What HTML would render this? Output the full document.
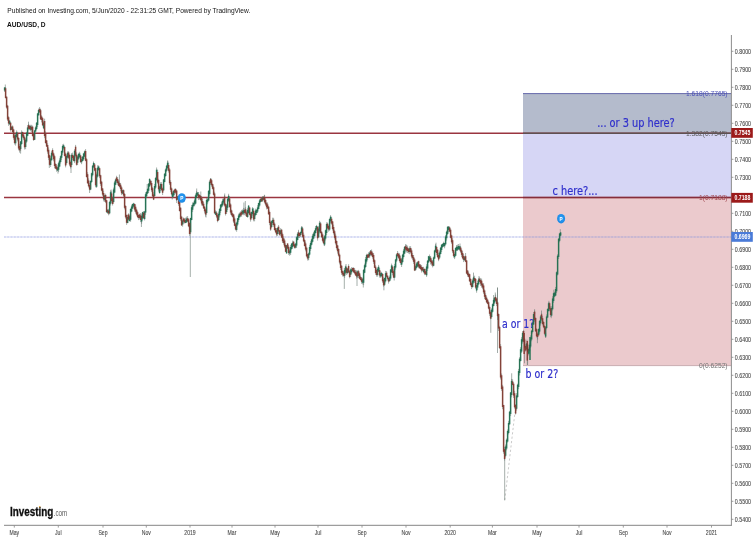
<!DOCTYPE html>
<html lang="en"><head><meta charset="utf-8"><title>AUD/USD, D</title>
<style>
html,body{margin:0;padding:0;background:#fff}
body{width:756px;height:540px;overflow:hidden;font-family:"Liberation Sans",Arial,sans-serif}
svg{display:block}
.ax text{font-family:"Liberation Sans",Arial,sans-serif;font-size:6.4px;fill:#4a4a4a;stroke:#4a4a4a;stroke-width:0.1px}
.note{font-family:"DejaVu Sans Condensed","DejaVu Sans","Liberation Sans",sans-serif;fill:#3030cc}
.fib{font-family:"Liberation Sans",Arial,sans-serif;font-size:6.7px}
</style></head><body>
<svg width="756" height="540" viewBox="0 0 756 540">
<defs><filter id="b" x="-5%" y="-5%" width="110%" height="110%"><feGaussianBlur stdDeviation="0.4"/></filter><filter id="t" x="-5%" y="-20%" width="110%" height="140%"><feGaussianBlur stdDeviation="0.25"/></filter></defs>
<rect width="756" height="540" fill="#fff"/>
<rect x="523" y="93.6" width="208" height="39.6" fill="#b4bbcc"/>
<rect x="523" y="133.2" width="208" height="64.3" fill="#d6d6f5"/>
<rect x="523" y="197.5" width="208" height="168.1" fill="#ebcacd"/>
<line x1="523" x2="731" y1="93.6" y2="93.6" stroke="#6668ac" stroke-width="1"/>
<line x1="523" x2="731" y1="365.6" y2="365.6" stroke="#c4a8ac" stroke-width="0.9"/>
<line x1="4" x2="731" y1="237.0" y2="237.0" stroke="#8f9be0" stroke-opacity="0.24" stroke-width="1.5"/>
<line x1="4" x2="731" y1="237.0" y2="237.0" stroke="#7f8cd8" stroke-opacity="0.26" stroke-width="1.3" stroke-dasharray="1.8 1.5"/>
<line x1="4" x2="731" y1="133.2" y2="133.2" stroke="#9a3540" stroke-width="1.35"/>
<line x1="4" x2="731" y1="197.5" y2="197.5" stroke="#9a3540" stroke-width="1.35"/>
<line x1="523" x2="731" y1="133.2" y2="133.2" stroke="#555" stroke-opacity="0.85" stroke-width="1.5"/>
<line x1="523" x2="731" y1="197.5" y2="197.5" stroke="#7a2838" stroke-opacity="0.6" stroke-width="1.5"/>
<line x1="504.8" y1="500" x2="515" y2="412" stroke="#bdbdbd" stroke-width="0.8" stroke-dasharray="2.2 2.2"/>
<text class="note" x="597.2" y="127.3" font-size="12" textLength="77.5" lengthAdjust="spacingAndGlyphs" stroke="#3030cc" stroke-width="0.2">... or 3 up here?</text>
<text class="note" x="552.6" y="194.8" font-size="12" textLength="44.9" lengthAdjust="spacingAndGlyphs" stroke="#3030cc" stroke-width="0.2">c here?...</text>
<text class="note" x="502.1" y="328" font-size="12" textLength="32.2" lengthAdjust="spacingAndGlyphs" stroke="#3030cc" stroke-width="0.2">a or 1?</text>
<text class="note" x="525.6" y="377.5" font-size="12" textLength="32.6" lengthAdjust="spacingAndGlyphs" stroke="#3030cc" stroke-width="0.2">b or 2?</text>
<path d="M4.6 87.1V92.0M5.6 87.0V98.5M6.6 96.3V108.7M7.6 104.9V121.0M8.6 116.2V125.8M9.6 120.2V124.8M10.6 122.1V131.6M11.6 126.3V130.1M12.6 125.4V133.0M13.6 128.7V139.7M14.6 134.0V144.5M15.6 133.8V145.6M16.6 130.4V137.7M17.6 131.8V141.4M18.6 137.0V150.3M19.6 143.8V152.6M20.6 141.0V150.8M21.6 130.4V144.9M22.6 131.6V137.7M23.6 134.2V140.2M24.6 136.2V149.5M25.6 138.2V149.2M26.6 131.8V142.8M27.6 125.1V136.3M28.6 123.9V130.3M29.6 124.9V130.2M30.6 124.8V131.3M31.6 124.8V131.9M32.6 125.6V136.6M33.6 133.6V140.8M34.6 130.0V140.0M35.6 126.3V131.8M36.6 122.1V129.9M37.6 112.9V127.1M38.6 108.6V115.7M39.6 107.1V112.9M40.6 108.9V119.9M41.6 115.2V122.4M42.6 117.3V126.2M43.6 120.6V129.2M44.6 118.7V138.2M45.6 131.4V143.7M46.6 140.0V146.9M47.6 143.3V153.7M48.6 147.4V160.1M49.6 154.6V165.5M50.6 156.2V167.0M51.6 150.8V160.6M52.6 148.3V156.7M53.6 152.5V161.3M54.6 155.1V168.3M55.6 163.3V169.1M56.6 164.3V171.7M57.6 166.9V170.8M58.6 161.8V172.0M59.6 158.3V167.2M60.6 155.4V163.5M61.6 150.5V159.9M62.6 144.4V154.8M63.6 143.8V149.7M64.6 146.3V156.4M65.6 152.5V167.4M66.6 154.6V164.6M67.6 151.3V158.4M68.6 151.2V159.2M69.6 153.8V166.0M70.6 160.6V168.5M71.6 153.1V167.3M72.6 152.6V159.9M73.6 154.8V161.3M74.6 149.1V163.1M75.6 144.9V157.4M76.6 152.4V165.6M77.6 155.3V165.1M78.6 152.8V160.1M79.6 151.8V157.6M80.6 155.1V162.9M81.6 156.9V164.2M82.6 156.0V161.2M83.6 153.1V160.4M84.6 150.5V157.1M85.6 149.1V161.3M86.6 158.1V177.5M87.6 172.2V183.7M88.6 178.4V187.5M89.6 182.9V190.2M90.6 180.3V190.2M91.6 172.6V182.9M92.6 164.9V176.5M93.6 162.7V168.1M94.6 163.0V171.3M95.6 167.8V187.3M96.6 172.4V187.9M97.6 165.3V177.6M98.6 165.4V170.9M99.6 167.7V178.2M100.6 174.7V185.8M101.6 180.8V191.3M102.6 188.0V195.9M103.6 190.7V200.7M104.6 194.7V200.7M105.6 193.7V203.1M106.6 200.0V212.9M107.6 209.4V213.7M108.6 208.8V215.3M109.6 200.9V214.3M110.6 190.4V205.5M111.6 191.4V202.7M112.6 196.8V205.5M113.6 187.6V203.5M114.6 180.9V193.2M115.6 178.5V185.2M116.6 175.8V182.9M117.6 177.1V184.7M118.6 179.9V186.2M119.6 182.9V187.6M120.6 182.9V191.3M121.6 186.1V195.1M122.6 189.8V194.2M123.6 189.4V197.0M124.6 193.0V209.4M125.6 205.2V218.6M126.6 214.5V224.8M127.6 214.7V223.3M128.6 213.3V220.4M129.6 214.7V221.5M130.6 208.3V221.8M131.6 204.8V212.2M132.6 203.7V208.9M133.6 202.8V207.4M134.6 203.6V211.5M135.6 204.4V213.5M136.6 208.6V215.7M137.6 211.1V218.2M138.6 214.5V220.1M139.6 213.7V219.3M140.6 213.1V222.1M141.6 213.6V223.8M142.6 211.8V220.4M143.6 211.0V218.9M144.6 210.9V220.4M145.6 192.4V214.9M146.6 191.1V197.8M147.6 188.3V194.0M148.6 183.0V193.0M149.6 178.3V187.0M150.6 180.2V185.3M151.6 180.9V192.1M152.6 186.9V197.4M153.6 192.1V200.1M154.6 183.9V196.8M155.6 176.9V188.9M156.6 167.5V180.6M157.6 169.7V183.7M158.6 178.8V191.6M159.6 185.6V193.6M160.6 182.2V191.2M161.6 182.2V191.2M162.6 187.6V195.0M163.6 178.9V191.2M164.6 173.2V182.4M165.6 168.4V176.8M166.6 164.8V172.1M167.6 160.5V169.4M168.6 162.7V172.6M169.6 168.1V185.0M170.6 180.3V191.9M171.6 187.4V195.5M172.6 191.4V198.3M173.6 189.9V197.5M174.6 188.7V195.1M175.6 188.2V193.8M176.6 190.2V201.0M177.6 196.0V199.8M178.6 195.7V205.8M179.6 199.7V211.6M180.6 207.4V220.7M181.6 215.8V226.0M182.6 219.5V226.7M183.6 217.5V223.6M184.6 218.1V223.5M185.6 217.7V223.2M186.6 216.6V222.6M187.6 216.1V222.1M188.6 218.3V227.2M189.6 222.3V235.8M190.6 217.7V234.1M191.6 205.0V220.3M192.6 202.4V212.1M193.6 201.8V207.3M194.6 198.4V206.3M195.6 193.6V204.3M196.6 190.8V197.9M197.6 192.1V196.0M198.6 192.0V200.1M199.6 194.6V199.4M200.6 195.3V201.3M201.6 196.2V205.5M202.6 198.9V206.2M203.6 201.9V209.0M204.6 206.2V213.4M205.6 208.4V216.7M206.6 197.9V214.6M207.6 197.2V204.3M208.6 190.0V201.0M209.6 180.2V196.5M210.6 178.1V185.1M211.6 178.7V186.8M212.6 183.5V189.5M213.6 185.6V195.6M214.6 191.7V213.9M215.6 210.3V215.1M216.6 211.2V218.2M217.6 213.5V222.3M218.6 211.5V220.9M219.6 208.0V217.4M220.6 204.1V212.9M221.6 201.6V208.0M222.6 198.7V206.5M223.6 197.8V204.2M224.6 195.1V206.6M225.6 203.2V215.5M226.6 204.2V213.9M227.6 198.2V210.0M228.6 193.8V202.0M229.6 196.4V207.7M230.6 203.3V214.5M231.6 209.6V216.2M232.6 212.9V217.5M233.6 214.2V223.0M234.6 216.5V226.2M235.6 222.6V230.4M236.6 221.6V231.7M237.6 218.0V226.2M238.6 213.7V221.8M239.6 212.5V217.7M240.6 211.4V217.0M241.6 209.9V216.7M242.6 209.4V214.8M243.6 207.9V215.2M244.6 208.5V215.2M245.6 207.3V215.7M246.6 210.7V217.0M247.6 207.8V217.7M248.6 205.0V213.8M249.6 207.2V215.4M250.6 211.8V221.6M251.6 211.5V219.4M252.6 207.1V215.6M253.6 208.3V221.3M254.6 212.5V221.3M255.6 208.7V216.2M256.6 209.4V215.0M257.6 205.2V213.1M258.6 202.7V209.3M259.6 199.2V206.7M260.6 197.5V202.5M261.6 197.2V202.0M262.6 196.0V201.9M263.6 196.2V200.3M264.6 195.2V203.4M265.6 198.4V205.9M266.6 202.1V209.4M267.6 202.4V208.9M268.6 206.0V214.7M269.6 210.6V225.2M270.6 220.6V230.8M271.6 220.5V228.0M272.6 217.7V224.9M273.6 217.8V226.8M274.6 222.4V230.7M275.6 227.8V233.2M276.6 228.1V236.4M277.6 226.8V235.9M278.6 225.1V233.9M279.6 230.0V235.7M280.6 228.2V235.9M281.6 228.9V238.2M282.6 232.6V243.0M283.6 236.3V244.7M284.6 238.7V248.1M285.6 243.4V252.2M286.6 245.0V253.8M287.6 243.3V248.9M288.6 245.0V254.8M289.6 248.6V255.7M290.6 245.0V255.0M291.6 243.0V249.7M292.6 240.6V248.5M293.6 240.9V246.5M294.6 243.6V248.6M295.6 242.9V248.4M296.6 236.3V247.8M297.6 232.2V240.4M298.6 231.4V238.0M299.6 232.5V238.0M300.6 231.4V237.0M301.6 226.2V234.4M302.6 227.1V237.8M303.6 232.5V242.2M304.6 238.7V246.5M305.6 241.6V251.4M306.6 246.7V257.3M307.6 253.7V260.5M308.6 252.6V260.3M309.6 244.8V255.4M310.6 241.2V250.9M311.6 238.4V245.5M312.6 233.9V242.5M313.6 232.0V239.2M314.6 230.0V236.7M315.6 226.1V233.6M316.6 224.9V231.0M317.6 226.3V240.6M318.6 226.2V237.8M319.6 220.8V233.4M320.6 221.9V233.5M321.6 231.4V238.0M322.6 233.3V242.3M323.6 236.9V244.3M324.6 235.1V246.1M325.6 229.5V240.4M326.6 222.3V235.1M327.6 222.5V229.3M328.6 224.7V231.6M329.6 218.3V230.8M330.6 215.1V223.5M331.6 216.9V224.7M332.6 221.0V230.5M333.6 224.6V234.5M334.6 229.8V239.6M335.6 233.6V244.6M336.6 240.4V249.6M337.6 244.8V253.6M338.6 248.2V256.6M339.6 253.5V264.4M340.6 260.2V270.0M341.6 265.1V274.8M342.6 270.4V276.5M343.6 271.3V276.6M344.6 268.4V277.8M345.6 265.6V274.1M346.6 266.8V274.9M347.6 267.8V274.2M348.6 264.3V273.1M349.6 270.0V278.3M350.6 268.3V277.1M351.6 267.1V274.3M352.6 267.6V271.4M353.6 267.2V272.7M354.6 268.3V274.3M355.6 269.9V276.0M356.6 270.9V278.6M357.6 270.8V278.0M358.6 269.9V278.1M359.6 272.7V279.3M360.6 275.6V280.5M361.6 277.0V283.8M362.6 277.7V284.4M363.6 269.0V285.1M364.6 263.6V273.2M365.6 257.0V267.9M366.6 253.8V263.6M367.6 253.8V260.1M368.6 252.3V258.0M369.6 251.4V258.2M370.6 250.0V255.5M371.6 249.5V256.2M372.6 251.7V258.7M373.6 253.1V263.8M374.6 259.3V268.0M375.6 265.2V274.7M376.6 268.4V276.6M377.6 267.3V276.6M378.6 264.9V272.0M379.6 268.0V277.6M380.6 271.3V277.8M381.6 271.9V277.2M382.6 273.5V282.8M383.6 277.3V286.7M384.6 277.6V285.9M385.6 270.9V282.5M386.6 271.1V277.4M387.6 275.4V280.5M388.6 277.5V283.6M389.6 275.5V281.7M390.6 269.1V280.3M391.6 263.6V272.8M392.6 265.4V275.4M393.6 269.3V278.0M394.6 263.8V278.1M395.6 258.8V269.6M396.6 253.5V262.1M397.6 251.0V257.2M398.6 252.8V258.9M399.6 253.2V262.4M400.6 256.2V264.7M401.6 257.9V267.0M402.6 253.8V263.3M403.6 248.9V258.6M404.6 246.0V253.9M405.6 244.3V251.7M406.6 245.0V252.5M407.6 245.7V253.0M408.6 248.2V253.5M409.6 246.3V254.2M410.6 246.2V253.5M411.6 248.6V258.4M412.6 252.9V260.2M413.6 255.0V263.9M414.6 258.1V271.1M415.6 264.6V270.8M416.6 262.2V268.4M417.6 261.3V266.9M418.6 260.7V268.2M419.6 264.1V268.5M420.6 264.1V269.8M421.6 265.2V272.5M422.6 266.9V271.3M423.6 266.8V273.2M424.6 268.5V275.1M425.6 268.8V275.0M426.6 264.2V276.9M427.6 260.1V270.9M428.6 255.9V263.0M429.6 254.5V261.1M430.6 256.0V264.5M431.6 258.5V265.6M432.6 260.0V267.4M433.6 256.6V266.3M434.6 249.7V259.0M435.6 243.9V252.5M436.6 246.3V255.2M437.6 249.2V258.1M438.6 252.8V261.2M439.6 250.5V258.9M440.6 246.9V254.4M441.6 244.2V252.0M442.6 243.4V247.9M443.6 241.7V247.0M444.6 242.7V248.3M445.6 235.1V245.1M446.6 230.6V240.6M447.6 226.3V234.9M448.6 226.0V232.3M449.6 226.6V232.2M450.6 228.4V238.4M451.6 234.6V243.8M452.6 238.3V253.1M453.6 249.7V257.5M454.6 252.3V259.1M455.6 247.4V256.1M456.6 245.0V250.8M457.6 244.6V251.1M458.6 244.0V250.0M459.6 245.8V250.6M460.6 246.0V252.8M461.6 248.5V256.9M462.6 251.1V259.3M463.6 253.9V262.1M464.6 255.8V260.6M465.6 255.7V262.2M466.6 260.1V273.9M467.6 270.3V276.6M468.6 271.6V277.3M469.6 273.8V281.9M470.6 278.1V285.6M471.6 281.7V289.1M472.6 278.6V287.7M473.6 276.4V283.8M474.6 275.7V282.9M475.6 278.0V288.8M476.6 283.0V292.7M477.6 280.7V289.8M478.6 277.9V285.3M479.6 277.4V282.1M480.6 278.2V285.9M481.6 278.6V287.6M482.6 282.8V289.2M483.6 283.3V293.9M484.6 289.4V299.0M485.6 293.3V300.2M486.6 296.4V303.1M487.6 299.1V304.3M488.6 301.1V309.3M489.6 305.6V315.8M490.6 310.5V319.3M491.6 308.3V318.6M492.6 303.4V312.6M493.6 298.4V306.4M494.6 296.9V303.9M495.6 294.6V301.6M496.6 298.2V306.1M497.6 301.4V317.1M498.6 313.4V331.0M499.6 325.8V349.0M500.6 344.1V379.5M501.6 373.5V390.8M502.6 384.8V409.2M503.6 404.8V453.7M504.6 446.8V460.5M505.6 444.5V457.4M506.6 438.5V450.3M507.6 429.5V442.6M508.6 420.8V434.4M509.6 410.9V424.8M510.6 392.0V416.1M511.6 378.9V397.4M512.6 379.3V385.3M513.6 382.3V397.9M514.6 390.8V408.6M515.6 404.0V414.5M516.6 393.1V410.6M517.6 383.7V398.1M518.6 368.9V389.2M519.6 357.2V375.5M520.6 347.2V361.5M521.6 337.2V353.0M522.6 331.2V343.6M523.6 329.9V342.2M524.6 338.0V348.2M525.6 344.4V351.6M526.6 343.2V350.3M527.6 342.7V352.2M528.6 347.5V355.4M529.6 343.4V351.7M530.6 335.4V348.0M531.6 330.1V341.3M532.6 322.2V333.4M533.6 312.0V324.9M534.6 310.7V322.1M535.6 317.3V331.8M536.6 328.2V337.5M537.6 332.2V339.5M538.6 328.3V335.7M539.6 320.0V333.7M540.6 314.9V325.6M541.6 313.3V321.2M542.6 316.1V325.4M543.6 321.2V328.2M544.6 325.1V335.1M545.6 326.1V337.8M546.6 314.4V329.2M547.6 308.2V318.2M548.6 302.2V311.6M549.6 302.3V311.3M550.6 306.3V316.8M551.6 306.3V316.6M552.6 296.2V310.5M553.6 292.7V302.9M554.6 291.7V297.2M555.6 286.9V296.0M556.6 271.4V293.1M557.6 254.2V275.5M558.6 238.1V259.0M559.6 232.9V242.3M560.6 232.0V236.4M5.3 84.5V90.0M20.6 146.0V153.6M28.5 121.7V127.0M40.0 108.5V112.0M49.3 160.0V168.0M58.0 165.0V173.6M71.0 164.0V173.0M89.6 185.0V193.0M93.5 161.5V165.0M104.2 196.0V202.0M111.1 189.5V195.0M119.4 174.5V185.0M141.4 216.0V227.0M147.2 184.0V194.0M167.8 160.8V166.0M172.2 192.0V199.5M176.7 190.0V203.0M190.3 226.0V277.0M196.7 188.5V195.0M200.8 191.5V199.0M206.0 210.0V217.5M210.6 178.2V183.0M224.7 193.5V200.0M228.6 195.0V199.0M243.9 202.5V212.0M245.3 201.0V212.0M264.4 194.8V200.0M298.5 229.8V235.0M302.0 226.4V231.0M308.6 254.0V259.7M324.2 238.0V245.8M330.4 216.6V220.0M344.3 268.0V288.9M346.0 264.0V270.0M357.0 270.0V286.0M363.3 278.0V287.5M370.7 250.0V254.0M383.9 280.0V290.3M394.2 272.0V280.5M406.0 244.4V248.0M436.0 242.7V249.0M448.8 226.0V229.0M460.0 243.5V250.0M465.6 253.0V260.0M473.5 272.6V280.0M479.0 276.0V281.0M490.8 312.0V332.8M493.6 295.0V304.0M495.3 292.5V300.0M497.5 287.6V353.0M497.5 287.6V320.0M504.7 455.0V500.4M511.7 373.3V384.0M523.2 331.4V335.0M527.0 339.7V347.0M527.6 350.0V365.0M534.6 309.2V314.0M537.4 333.0V343.2M541.5 310.5V318.0M545.7 333.0V337.6M548.9 300.8V305.0M551.2 311.0V318.2M553.8 289.7V296.0M560.3 229.2V236.0M524.5 354.0V363.3M527.3 360.0V365.0" stroke="#66776f" stroke-opacity="0.85" stroke-width="0.7" fill="none" filter="url(#t)"/>
<g filter="url(#b)">
<path d="M4.6 87.6V90.6M9.6 120.8V124.2M11.6 126.7V129.7M15.6 134.7V143.3M16.6 132.3V137.1M20.6 141.4V149.1M21.6 132.5V144.0M25.6 139.7V147.0M26.6 132.7V141.6M27.6 127.4V135.7M30.6 126.2V129.7M34.6 130.5V139.7M35.6 127.4V131.4M36.6 122.7V129.1M37.6 113.5V125.0M38.6 109.9V115.2M43.6 122.5V128.2M50.6 158.4V164.9M51.6 152.8V160.2M57.6 167.5V170.5M58.6 163.3V169.7M59.6 160.4V166.4M60.6 156.2V162.0M61.6 151.0V157.7M62.6 145.9V152.6M63.6 145.2V148.3M66.6 156.0V163.1M67.6 152.8V157.6M71.6 154.8V165.1M74.6 150.8V161.2M77.6 156.6V162.7M78.6 154.0V158.8M79.6 153.6V157.2M81.6 159.2V162.2M82.6 156.8V160.9M83.6 153.6V159.2M84.6 151.4V156.5M90.6 181.1V189.6M91.6 173.3V181.9M92.6 165.8V175.2M93.6 163.1V167.3M96.6 174.4V186.8M97.6 167.7V176.6M98.6 166.5V169.9M104.6 195.6V199.7M107.6 209.7V212.7M109.6 202.0V213.3M110.6 192.2V203.8M113.6 189.6V202.0M114.6 182.6V192.4M115.6 179.6V184.7M122.6 190.3V193.6M127.6 216.9V223.0M129.6 216.2V220.9M130.6 208.9V219.8M131.6 206.6V211.4M132.6 204.1V208.5M133.6 203.4V206.4M141.6 215.8V221.5M142.6 212.2V218.5M144.6 211.5V219.1M145.6 194.3V212.6M146.6 192.1V196.3M147.6 188.9V193.3M148.6 183.8V190.8M149.6 178.9V186.3M154.6 186.0V196.0M155.6 178.1V187.6M156.6 169.7V180.2M159.6 186.4V193.1M160.6 183.9V188.9M163.6 179.5V190.3M164.6 173.8V182.0M165.6 169.5V176.1M166.6 165.7V170.8M167.6 162.7V168.1M172.6 193.3V196.9M173.6 190.9V195.5M177.6 196.4V199.4M182.6 220.6V224.4M185.6 219.9V222.9M186.6 218.6V222.2M190.6 218.0V232.2M191.6 207.3V219.9M192.6 204.7V209.8M193.6 203.0V206.0M194.6 200.4V204.4M195.6 195.2V203.4M196.6 192.8V197.5M197.6 192.6V195.6M206.6 199.9V213.0M207.6 199.2V202.2M208.6 191.0V200.4M209.6 181.7V194.2M215.6 211.7V214.7M218.6 213.8V219.9M219.6 209.1V215.3M220.6 204.8V211.0M221.6 203.8V206.8M222.6 200.8V205.3M223.6 199.3V202.6M226.6 205.5V211.9M227.6 198.8V207.7M228.6 196.0V200.8M236.6 222.8V230.0M237.6 218.3V224.6M238.6 215.6V219.9M239.6 213.8V217.2M242.6 210.7V213.7M243.6 210.3V213.4M247.6 209.8V217.1M248.6 205.7V213.0M251.6 212.1V218.0M252.6 208.6V214.1M254.6 213.3V219.0M255.6 210.6V215.0M256.6 209.8V213.0M257.6 207.5V211.5M258.6 203.0V208.9M259.6 200.4V205.4M260.6 199.1V202.1M262.6 197.6V200.6M271.6 221.2V227.0M272.6 219.9V222.9M277.6 228.0V234.0M280.6 230.4V234.0M286.6 245.3V253.3M289.6 250.6V253.6M290.6 247.1V252.8M291.6 243.8V249.1M292.6 242.7V246.9M295.6 243.8V247.5M296.6 237.2V245.5M297.6 233.8V240.0M300.6 232.1V235.1M301.6 227.5V233.0M308.6 253.4V258.1M309.6 247.0V254.6M310.6 243.1V249.0M311.6 239.4V244.8M312.6 235.7V241.8M313.6 233.6V238.6M314.6 230.8V236.0M315.6 228.2V233.0M316.6 225.9V229.6M318.6 228.5V237.2M319.6 222.8V231.5M324.6 236.3V244.6M325.6 230.3V238.6M326.6 224.1V233.1M329.6 219.1V229.6M330.6 216.8V221.3M344.6 270.1V275.8M345.6 266.6V272.7M347.6 268.7V273.0M350.6 269.4V274.8M351.6 269.3V272.3M357.6 271.5V276.3M362.6 279.2V282.7M363.6 270.1V282.8M364.6 265.3V272.8M365.6 259.3V266.9M366.6 255.1V261.5M369.6 252.8V256.2M377.6 268.8V274.9M378.6 266.8V271.4M380.6 273.3V276.4M381.6 272.9V276.0M384.6 278.0V284.8M385.6 273.2V281.2M389.6 277.3V280.9M390.6 269.5V278.4M391.6 265.4V272.3M394.6 265.9V277.6M395.6 259.5V267.5M396.6 254.6V260.6M401.6 259.5V264.7M402.6 254.7V262.1M403.6 250.7V257.0M404.6 246.9V253.6M409.6 248.2V252.0M415.6 266.3V269.7M416.6 263.6V267.8M417.6 262.3V266.4M423.6 269.0V272.0M426.6 266.5V275.2M427.6 260.7V268.5M428.6 256.3V262.2M429.6 256.5V260.7M433.6 257.4V265.8M434.6 250.5V258.4M435.6 245.8V251.8M439.6 252.5V257.6M440.6 247.7V253.9M441.6 244.8V249.9M442.6 244.1V247.1M443.6 243.0V246.0M444.6 243.1V246.2M445.6 236.4V244.2M446.6 231.7V238.2M447.6 226.8V233.9M448.6 226.9V229.9M454.6 253.9V257.3M455.6 248.1V255.7M456.6 246.8V250.4M457.6 246.7V249.7M458.6 246.1V249.1M459.6 246.5V249.5M464.6 257.3V260.3M472.6 280.5V287.1M473.6 277.5V282.6M476.6 285.1V290.6M477.6 283.0V287.5M478.6 279.5V284.3M491.6 309.8V317.0M492.6 304.2V311.8M493.6 299.9V306.0M494.6 297.7V302.5M505.6 446.6V455.8M506.6 439.8V448.4M507.6 431.0V441.5M508.6 422.9V433.1M509.6 411.8V424.2M510.6 392.5V413.9M511.6 380.9V395.1M516.6 395.4V408.8M517.6 384.8V397.0M518.6 371.1V386.9M519.6 358.8V373.1M520.6 349.2V360.9M521.6 339.3V351.6M522.6 332.9V341.6M526.6 343.6V349.1M528.6 349.1V353.7M529.6 344.9V350.8M530.6 337.8V346.5M531.6 330.7V339.4M532.6 322.9V332.0M533.6 314.0V324.5M538.6 329.1V335.3M539.6 320.9V331.6M540.6 316.4V323.3M545.6 327.2V336.6M546.6 316.5V328.1M547.6 309.1V317.4M548.6 303.3V310.9M551.6 308.1V315.5M552.6 298.5V309.2M553.6 293.3V301.1M554.6 292.7V296.4M555.6 289.0V295.5M556.6 272.3V291.2M557.6 255.7V274.6M558.6 238.8V256.9M559.6 233.5V240.8M560.6 232.5V235.5M530.0 337.0V360.0" stroke="#257f5b" stroke-width="1.5" stroke-opacity="0.9" fill="none"/>
<path d="M4.6 87.6V90.6M9.6 120.8V124.2M11.6 126.7V129.7M15.6 134.7V143.3M16.6 132.3V137.1M20.6 141.4V149.1M21.6 132.5V144.0M25.6 139.7V147.0M26.6 132.7V141.6M27.6 127.4V135.7M30.6 126.2V129.7M34.6 130.5V139.7M35.6 127.4V131.4M36.6 122.7V129.1M37.6 113.5V125.0M38.6 109.9V115.2M43.6 122.5V128.2M50.6 158.4V164.9M51.6 152.8V160.2M57.6 167.5V170.5M58.6 163.3V169.7M59.6 160.4V166.4M60.6 156.2V162.0M61.6 151.0V157.7M62.6 145.9V152.6M63.6 145.2V148.3M66.6 156.0V163.1M67.6 152.8V157.6M71.6 154.8V165.1M74.6 150.8V161.2M77.6 156.6V162.7M78.6 154.0V158.8M79.6 153.6V157.2M81.6 159.2V162.2M82.6 156.8V160.9M83.6 153.6V159.2M84.6 151.4V156.5M90.6 181.1V189.6M91.6 173.3V181.9M92.6 165.8V175.2M93.6 163.1V167.3M96.6 174.4V186.8M97.6 167.7V176.6M98.6 166.5V169.9M104.6 195.6V199.7M107.6 209.7V212.7M109.6 202.0V213.3M110.6 192.2V203.8M113.6 189.6V202.0M114.6 182.6V192.4M115.6 179.6V184.7M122.6 190.3V193.6M127.6 216.9V223.0M129.6 216.2V220.9M130.6 208.9V219.8M131.6 206.6V211.4M132.6 204.1V208.5M133.6 203.4V206.4M141.6 215.8V221.5M142.6 212.2V218.5M144.6 211.5V219.1M145.6 194.3V212.6M146.6 192.1V196.3M147.6 188.9V193.3M148.6 183.8V190.8M149.6 178.9V186.3M154.6 186.0V196.0M155.6 178.1V187.6M156.6 169.7V180.2M159.6 186.4V193.1M160.6 183.9V188.9M163.6 179.5V190.3M164.6 173.8V182.0M165.6 169.5V176.1M166.6 165.7V170.8M167.6 162.7V168.1M172.6 193.3V196.9M173.6 190.9V195.5M177.6 196.4V199.4M182.6 220.6V224.4M185.6 219.9V222.9M186.6 218.6V222.2M190.6 218.0V232.2M191.6 207.3V219.9M192.6 204.7V209.8M193.6 203.0V206.0M194.6 200.4V204.4M195.6 195.2V203.4M196.6 192.8V197.5M197.6 192.6V195.6M206.6 199.9V213.0M207.6 199.2V202.2M208.6 191.0V200.4M209.6 181.7V194.2M215.6 211.7V214.7M218.6 213.8V219.9M219.6 209.1V215.3M220.6 204.8V211.0M221.6 203.8V206.8M222.6 200.8V205.3M223.6 199.3V202.6M226.6 205.5V211.9M227.6 198.8V207.7M228.6 196.0V200.8M236.6 222.8V230.0M237.6 218.3V224.6M238.6 215.6V219.9M239.6 213.8V217.2M242.6 210.7V213.7M243.6 210.3V213.4M247.6 209.8V217.1M248.6 205.7V213.0M251.6 212.1V218.0M252.6 208.6V214.1M254.6 213.3V219.0M255.6 210.6V215.0M256.6 209.8V213.0M257.6 207.5V211.5M258.6 203.0V208.9M259.6 200.4V205.4M260.6 199.1V202.1M262.6 197.6V200.6M271.6 221.2V227.0M272.6 219.9V222.9M277.6 228.0V234.0M280.6 230.4V234.0M286.6 245.3V253.3M289.6 250.6V253.6M290.6 247.1V252.8M291.6 243.8V249.1M292.6 242.7V246.9M295.6 243.8V247.5M296.6 237.2V245.5M297.6 233.8V240.0M300.6 232.1V235.1M301.6 227.5V233.0M308.6 253.4V258.1M309.6 247.0V254.6M310.6 243.1V249.0M311.6 239.4V244.8M312.6 235.7V241.8M313.6 233.6V238.6M314.6 230.8V236.0M315.6 228.2V233.0M316.6 225.9V229.6M318.6 228.5V237.2M319.6 222.8V231.5M324.6 236.3V244.6M325.6 230.3V238.6M326.6 224.1V233.1M329.6 219.1V229.6M330.6 216.8V221.3M344.6 270.1V275.8M345.6 266.6V272.7M347.6 268.7V273.0M350.6 269.4V274.8M351.6 269.3V272.3M357.6 271.5V276.3M362.6 279.2V282.7M363.6 270.1V282.8M364.6 265.3V272.8M365.6 259.3V266.9M366.6 255.1V261.5M369.6 252.8V256.2M377.6 268.8V274.9M378.6 266.8V271.4M380.6 273.3V276.4M381.6 272.9V276.0M384.6 278.0V284.8M385.6 273.2V281.2M389.6 277.3V280.9M390.6 269.5V278.4M391.6 265.4V272.3M394.6 265.9V277.6M395.6 259.5V267.5M396.6 254.6V260.6M401.6 259.5V264.7M402.6 254.7V262.1M403.6 250.7V257.0M404.6 246.9V253.6M409.6 248.2V252.0M415.6 266.3V269.7M416.6 263.6V267.8M417.6 262.3V266.4M423.6 269.0V272.0M426.6 266.5V275.2M427.6 260.7V268.5M428.6 256.3V262.2M429.6 256.5V260.7M433.6 257.4V265.8M434.6 250.5V258.4M435.6 245.8V251.8M439.6 252.5V257.6M440.6 247.7V253.9M441.6 244.8V249.9M442.6 244.1V247.1M443.6 243.0V246.0M444.6 243.1V246.2M445.6 236.4V244.2M446.6 231.7V238.2M447.6 226.8V233.9M448.6 226.9V229.9M454.6 253.9V257.3M455.6 248.1V255.7M456.6 246.8V250.4M457.6 246.7V249.7M458.6 246.1V249.1M459.6 246.5V249.5M464.6 257.3V260.3M472.6 280.5V287.1M473.6 277.5V282.6M476.6 285.1V290.6M477.6 283.0V287.5M478.6 279.5V284.3M491.6 309.8V317.0M492.6 304.2V311.8M493.6 299.9V306.0M494.6 297.7V302.5M505.6 446.6V455.8M506.6 439.8V448.4M507.6 431.0V441.5M508.6 422.9V433.1M509.6 411.8V424.2M510.6 392.5V413.9M511.6 380.9V395.1M516.6 395.4V408.8M517.6 384.8V397.0M518.6 371.1V386.9M519.6 358.8V373.1M520.6 349.2V360.9M521.6 339.3V351.6M522.6 332.9V341.6M526.6 343.6V349.1M528.6 349.1V353.7M529.6 344.9V350.8M530.6 337.8V346.5M531.6 330.7V339.4M532.6 322.9V332.0M533.6 314.0V324.5M538.6 329.1V335.3M539.6 320.9V331.6M540.6 316.4V323.3M545.6 327.2V336.6M546.6 316.5V328.1M547.6 309.1V317.4M548.6 303.3V310.9M551.6 308.1V315.5M552.6 298.5V309.2M553.6 293.3V301.1M554.6 292.7V296.4M555.6 289.0V295.5M556.6 272.3V291.2M557.6 255.7V274.6M558.6 238.8V256.9M559.6 233.5V240.8M560.6 232.5V235.5M530.0 337.0V360.0" stroke="#154a36" stroke-width="0.6" stroke-opacity="0.55" fill="none"/>
<path d="M5.6 88.3V98.1M6.6 96.8V107.6M7.6 105.7V119.4M8.6 117.3V123.4M10.6 122.8V130.0M12.6 126.6V132.0M13.6 129.6V137.7M14.6 135.5V143.1M17.6 133.5V139.4M18.6 138.0V148.5M19.6 145.9V150.3M22.6 132.0V136.4M23.6 134.6V138.2M24.6 137.3V147.3M28.6 125.2V128.8M29.6 126.1V129.1M31.6 126.8V129.8M32.6 126.7V136.1M33.6 134.1V140.1M39.6 109.1V112.3M40.6 110.3V119.3M41.6 116.6V120.0M42.6 118.2V125.2M44.6 121.1V136.1M45.6 133.3V142.9M46.6 140.4V146.6M47.6 145.1V151.4M48.6 149.8V157.8M49.6 155.3V164.8M52.6 150.1V155.4M53.6 153.5V159.3M54.6 156.3V166.1M55.6 163.9V168.5M56.6 166.4V169.4M64.6 146.9V156.1M65.6 153.7V165.5M68.6 152.6V157.8M69.6 155.0V164.5M70.6 161.9V167.1M72.6 154.9V157.9M73.6 156.1V160.8M75.6 146.7V155.7M76.6 154.7V164.8M80.6 155.4V161.9M85.6 150.9V160.8M86.6 159.3V177.1M87.6 174.2V183.2M88.6 180.6V186.3M89.6 185.1V189.4M94.6 164.5V170.6M95.6 168.3V185.3M99.6 168.2V176.3M100.6 175.2V183.8M101.6 181.7V190.5M102.6 188.6V194.6M103.6 193.0V199.3M105.6 195.0V201.7M106.6 200.3V212.1M108.6 210.6V213.6M111.6 193.5V201.1M112.6 198.2V204.1M116.6 177.4V181.2M117.6 179.0V182.9M118.6 181.5V185.7M119.6 183.3V186.7M120.6 184.7V189.0M121.6 187.4V193.3M123.6 190.3V195.5M124.6 193.9V207.7M125.6 206.1V217.2M126.6 215.0V222.7M128.6 214.6V219.5M134.6 203.9V209.6M135.6 206.7V211.7M136.6 209.7V214.6M137.6 212.2V217.0M138.6 215.0V218.0M139.6 214.6V217.9M140.6 215.4V219.9M143.6 212.7V218.0M150.6 180.7V184.5M151.6 183.1V190.2M152.6 188.3V196.3M153.6 194.5V199.5M157.6 171.9V182.4M158.6 180.0V189.3M161.6 184.1V189.9M162.6 188.4V192.8M168.6 165.0V170.8M169.6 169.4V183.3M170.6 182.0V189.7M171.6 188.4V194.3M174.6 189.7V192.8M175.6 189.0V192.6M176.6 190.8V199.9M178.6 197.9V203.9M179.6 200.7V210.9M180.6 207.7V219.0M181.6 216.8V225.3M183.6 218.6V221.6M184.6 219.4V222.4M187.6 218.3V221.3M188.6 219.3V226.3M189.6 223.1V234.0M198.6 194.2V197.7M199.6 195.1V198.1M200.6 196.1V200.1M201.6 198.0V203.4M202.6 201.0V205.3M203.6 203.8V208.3M204.6 206.8V211.3M205.6 209.5V214.4M210.6 179.0V183.2M211.6 180.3V185.2M212.6 184.1V188.8M213.6 187.3V194.8M214.6 193.4V213.2M216.6 212.7V216.6M217.6 215.3V221.1M224.6 196.7V205.5M225.6 204.1V214.1M229.6 198.4V207.1M230.6 204.5V212.4M231.6 210.4V215.1M232.6 213.5V216.7M233.6 214.6V221.5M234.6 218.6V225.7M235.6 224.2V229.5M240.6 212.7V215.7M241.6 211.7V214.7M244.6 209.9V212.9M245.6 209.2V213.5M246.6 212.5V216.4M249.6 207.6V214.8M250.6 213.5V219.4M253.6 210.7V219.6M261.6 198.3V201.3M263.6 196.8V199.8M264.6 197.1V202.3M265.6 200.1V204.4M266.6 203.3V207.2M267.6 204.6V208.5M268.6 206.8V214.3M269.6 212.0V223.0M270.6 222.2V229.5M273.6 219.8V225.0M274.6 223.7V229.9M275.6 228.2V232.2M276.6 230.2V234.6M278.6 226.8V231.6M279.6 230.3V234.8M281.6 229.8V237.4M282.6 234.3V241.3M283.6 238.4V243.0M284.6 240.5V246.6M285.6 245.0V251.8M287.6 243.6V248.5M288.6 246.8V253.0M293.6 241.8V246.0M294.6 244.4V247.7M298.6 232.4V236.2M299.6 233.0V236.0M302.6 228.4V236.8M303.6 234.8V241.3M304.6 240.0V246.0M305.6 243.5V249.6M306.6 247.8V256.2M307.6 254.2V258.4M317.6 227.0V238.3M320.6 223.5V232.9M321.6 231.8V236.9M322.6 234.6V240.7M323.6 238.5V243.2M327.6 223.7V228.3M328.6 225.9V229.6M331.6 218.8V223.6M332.6 221.4V229.1M333.6 226.9V233.1M334.6 231.3V237.8M335.6 235.7V243.2M336.6 241.1V247.9M337.6 245.4V251.2M338.6 249.0V255.4M339.6 254.7V262.6M340.6 260.9V268.1M341.6 265.8V272.8M342.6 271.0V274.6M343.6 272.8V275.8M346.6 267.8V272.8M348.6 266.1V272.2M349.6 271.3V277.1M352.6 267.9V271.1M353.6 268.0V272.2M354.6 270.2V273.2M355.6 271.8V275.3M356.6 272.6V276.4M358.6 271.2V275.9M359.6 273.5V278.7M360.6 276.9V279.9M361.6 278.4V281.7M367.6 254.8V258.0M368.6 254.2V257.2M370.6 251.3V254.6M371.6 251.5V255.2M372.6 253.2V257.0M373.6 254.9V261.7M374.6 260.3V267.7M375.6 266.8V273.0M376.6 270.0V275.0M379.6 269.9V275.4M382.6 273.9V281.3M383.6 279.3V285.2M386.6 272.7V276.7M387.6 275.7V278.8M388.6 278.0V281.5M392.6 266.7V273.1M393.6 271.2V277.6M397.6 253.0V256.1M398.6 254.0V257.8M399.6 255.2V260.9M400.6 258.6V263.0M405.6 246.3V249.6M406.6 247.0V250.4M407.6 247.8V251.0M408.6 248.7V252.1M410.6 248.0V252.2M411.6 250.5V256.5M412.6 254.9V258.3M413.6 257.2V261.8M414.6 259.6V270.4M418.6 261.3V266.6M419.6 264.4V268.2M420.6 265.6V269.0M421.6 267.1V270.5M422.6 267.6V270.6M424.6 268.9V273.6M425.6 271.2V274.2M430.6 257.7V262.1M431.6 260.4V263.4M432.6 261.6V265.5M436.6 247.0V252.9M437.6 249.8V256.9M438.6 254.9V259.6M449.6 227.6V231.6M450.6 229.8V237.7M451.6 235.4V242.3M452.6 240.2V251.3M453.6 250.2V255.9M460.6 247.4V251.6M461.6 250.3V254.8M462.6 252.9V258.2M463.6 256.1V259.8M465.6 256.3V261.7M466.6 260.5V273.4M467.6 270.6V275.0M468.6 273.4V276.8M469.6 274.2V281.3M470.6 279.0V285.1M471.6 283.2V287.0M474.6 277.9V280.9M475.6 279.0V287.6M479.6 278.8V281.8M480.6 280.1V283.6M481.6 280.7V285.4M482.6 283.7V287.5M483.6 285.6V292.3M484.6 290.6V296.7M485.6 294.9V299.7M486.6 297.8V302.3M487.6 299.7V303.7M488.6 302.2V308.4M489.6 307.1V313.8M490.6 312.2V318.6M495.6 297.0V300.7M496.6 298.6V303.9M497.6 302.5V315.9M498.6 314.1V328.6M499.6 326.9V348.0M500.6 346.2V377.5M501.6 375.3V388.9M502.6 386.6V407.0M503.6 405.1V451.8M504.6 449.2V459.0M512.6 381.5V384.9M513.6 383.7V395.6M514.6 393.2V407.2M515.6 405.1V413.5M523.6 331.1V341.6M524.6 339.4V347.5M525.6 346.0V350.6M527.6 344.4V351.9M534.6 311.7V320.3M535.6 318.1V331.3M536.6 329.2V336.3M537.6 333.8V337.1M541.6 314.4V319.4M542.6 318.2V324.1M543.6 321.9V327.2M544.6 326.0V333.7M549.6 303.2V309.3M550.6 308.3V314.9M524.2 333.0V354.0M527.3 341.0V360.5" stroke="#90433b" stroke-width="1.5" stroke-opacity="0.9" fill="none"/>
<path d="M5.6 88.3V98.1M6.6 96.8V107.6M7.6 105.7V119.4M8.6 117.3V123.4M10.6 122.8V130.0M12.6 126.6V132.0M13.6 129.6V137.7M14.6 135.5V143.1M17.6 133.5V139.4M18.6 138.0V148.5M19.6 145.9V150.3M22.6 132.0V136.4M23.6 134.6V138.2M24.6 137.3V147.3M28.6 125.2V128.8M29.6 126.1V129.1M31.6 126.8V129.8M32.6 126.7V136.1M33.6 134.1V140.1M39.6 109.1V112.3M40.6 110.3V119.3M41.6 116.6V120.0M42.6 118.2V125.2M44.6 121.1V136.1M45.6 133.3V142.9M46.6 140.4V146.6M47.6 145.1V151.4M48.6 149.8V157.8M49.6 155.3V164.8M52.6 150.1V155.4M53.6 153.5V159.3M54.6 156.3V166.1M55.6 163.9V168.5M56.6 166.4V169.4M64.6 146.9V156.1M65.6 153.7V165.5M68.6 152.6V157.8M69.6 155.0V164.5M70.6 161.9V167.1M72.6 154.9V157.9M73.6 156.1V160.8M75.6 146.7V155.7M76.6 154.7V164.8M80.6 155.4V161.9M85.6 150.9V160.8M86.6 159.3V177.1M87.6 174.2V183.2M88.6 180.6V186.3M89.6 185.1V189.4M94.6 164.5V170.6M95.6 168.3V185.3M99.6 168.2V176.3M100.6 175.2V183.8M101.6 181.7V190.5M102.6 188.6V194.6M103.6 193.0V199.3M105.6 195.0V201.7M106.6 200.3V212.1M108.6 210.6V213.6M111.6 193.5V201.1M112.6 198.2V204.1M116.6 177.4V181.2M117.6 179.0V182.9M118.6 181.5V185.7M119.6 183.3V186.7M120.6 184.7V189.0M121.6 187.4V193.3M123.6 190.3V195.5M124.6 193.9V207.7M125.6 206.1V217.2M126.6 215.0V222.7M128.6 214.6V219.5M134.6 203.9V209.6M135.6 206.7V211.7M136.6 209.7V214.6M137.6 212.2V217.0M138.6 215.0V218.0M139.6 214.6V217.9M140.6 215.4V219.9M143.6 212.7V218.0M150.6 180.7V184.5M151.6 183.1V190.2M152.6 188.3V196.3M153.6 194.5V199.5M157.6 171.9V182.4M158.6 180.0V189.3M161.6 184.1V189.9M162.6 188.4V192.8M168.6 165.0V170.8M169.6 169.4V183.3M170.6 182.0V189.7M171.6 188.4V194.3M174.6 189.7V192.8M175.6 189.0V192.6M176.6 190.8V199.9M178.6 197.9V203.9M179.6 200.7V210.9M180.6 207.7V219.0M181.6 216.8V225.3M183.6 218.6V221.6M184.6 219.4V222.4M187.6 218.3V221.3M188.6 219.3V226.3M189.6 223.1V234.0M198.6 194.2V197.7M199.6 195.1V198.1M200.6 196.1V200.1M201.6 198.0V203.4M202.6 201.0V205.3M203.6 203.8V208.3M204.6 206.8V211.3M205.6 209.5V214.4M210.6 179.0V183.2M211.6 180.3V185.2M212.6 184.1V188.8M213.6 187.3V194.8M214.6 193.4V213.2M216.6 212.7V216.6M217.6 215.3V221.1M224.6 196.7V205.5M225.6 204.1V214.1M229.6 198.4V207.1M230.6 204.5V212.4M231.6 210.4V215.1M232.6 213.5V216.7M233.6 214.6V221.5M234.6 218.6V225.7M235.6 224.2V229.5M240.6 212.7V215.7M241.6 211.7V214.7M244.6 209.9V212.9M245.6 209.2V213.5M246.6 212.5V216.4M249.6 207.6V214.8M250.6 213.5V219.4M253.6 210.7V219.6M261.6 198.3V201.3M263.6 196.8V199.8M264.6 197.1V202.3M265.6 200.1V204.4M266.6 203.3V207.2M267.6 204.6V208.5M268.6 206.8V214.3M269.6 212.0V223.0M270.6 222.2V229.5M273.6 219.8V225.0M274.6 223.7V229.9M275.6 228.2V232.2M276.6 230.2V234.6M278.6 226.8V231.6M279.6 230.3V234.8M281.6 229.8V237.4M282.6 234.3V241.3M283.6 238.4V243.0M284.6 240.5V246.6M285.6 245.0V251.8M287.6 243.6V248.5M288.6 246.8V253.0M293.6 241.8V246.0M294.6 244.4V247.7M298.6 232.4V236.2M299.6 233.0V236.0M302.6 228.4V236.8M303.6 234.8V241.3M304.6 240.0V246.0M305.6 243.5V249.6M306.6 247.8V256.2M307.6 254.2V258.4M317.6 227.0V238.3M320.6 223.5V232.9M321.6 231.8V236.9M322.6 234.6V240.7M323.6 238.5V243.2M327.6 223.7V228.3M328.6 225.9V229.6M331.6 218.8V223.6M332.6 221.4V229.1M333.6 226.9V233.1M334.6 231.3V237.8M335.6 235.7V243.2M336.6 241.1V247.9M337.6 245.4V251.2M338.6 249.0V255.4M339.6 254.7V262.6M340.6 260.9V268.1M341.6 265.8V272.8M342.6 271.0V274.6M343.6 272.8V275.8M346.6 267.8V272.8M348.6 266.1V272.2M349.6 271.3V277.1M352.6 267.9V271.1M353.6 268.0V272.2M354.6 270.2V273.2M355.6 271.8V275.3M356.6 272.6V276.4M358.6 271.2V275.9M359.6 273.5V278.7M360.6 276.9V279.9M361.6 278.4V281.7M367.6 254.8V258.0M368.6 254.2V257.2M370.6 251.3V254.6M371.6 251.5V255.2M372.6 253.2V257.0M373.6 254.9V261.7M374.6 260.3V267.7M375.6 266.8V273.0M376.6 270.0V275.0M379.6 269.9V275.4M382.6 273.9V281.3M383.6 279.3V285.2M386.6 272.7V276.7M387.6 275.7V278.8M388.6 278.0V281.5M392.6 266.7V273.1M393.6 271.2V277.6M397.6 253.0V256.1M398.6 254.0V257.8M399.6 255.2V260.9M400.6 258.6V263.0M405.6 246.3V249.6M406.6 247.0V250.4M407.6 247.8V251.0M408.6 248.7V252.1M410.6 248.0V252.2M411.6 250.5V256.5M412.6 254.9V258.3M413.6 257.2V261.8M414.6 259.6V270.4M418.6 261.3V266.6M419.6 264.4V268.2M420.6 265.6V269.0M421.6 267.1V270.5M422.6 267.6V270.6M424.6 268.9V273.6M425.6 271.2V274.2M430.6 257.7V262.1M431.6 260.4V263.4M432.6 261.6V265.5M436.6 247.0V252.9M437.6 249.8V256.9M438.6 254.9V259.6M449.6 227.6V231.6M450.6 229.8V237.7M451.6 235.4V242.3M452.6 240.2V251.3M453.6 250.2V255.9M460.6 247.4V251.6M461.6 250.3V254.8M462.6 252.9V258.2M463.6 256.1V259.8M465.6 256.3V261.7M466.6 260.5V273.4M467.6 270.6V275.0M468.6 273.4V276.8M469.6 274.2V281.3M470.6 279.0V285.1M471.6 283.2V287.0M474.6 277.9V280.9M475.6 279.0V287.6M479.6 278.8V281.8M480.6 280.1V283.6M481.6 280.7V285.4M482.6 283.7V287.5M483.6 285.6V292.3M484.6 290.6V296.7M485.6 294.9V299.7M486.6 297.8V302.3M487.6 299.7V303.7M488.6 302.2V308.4M489.6 307.1V313.8M490.6 312.2V318.6M495.6 297.0V300.7M496.6 298.6V303.9M497.6 302.5V315.9M498.6 314.1V328.6M499.6 326.9V348.0M500.6 346.2V377.5M501.6 375.3V388.9M502.6 386.6V407.0M503.6 405.1V451.8M504.6 449.2V459.0M512.6 381.5V384.9M513.6 383.7V395.6M514.6 393.2V407.2M515.6 405.1V413.5M523.6 331.1V341.6M524.6 339.4V347.5M525.6 346.0V350.6M527.6 344.4V351.9M534.6 311.7V320.3M535.6 318.1V331.3M536.6 329.2V336.3M537.6 333.8V337.1M541.6 314.4V319.4M542.6 318.2V324.1M543.6 321.9V327.2M544.6 326.0V333.7M549.6 303.2V309.3M550.6 308.3V314.9M524.2 333.0V354.0M527.3 341.0V360.5" stroke="#5e2823" stroke-width="0.6" stroke-opacity="0.55" fill="none"/>
</g>
<defs><radialGradient id="pg" cx="50%" cy="45%" r="60%"><stop offset="0" stop-color="#2b9cf5"/><stop offset="0.7" stop-color="#1f8fea"/><stop offset="1" stop-color="#1a7fd6"/></radialGradient></defs>
<ellipse cx="181.8" cy="198.0" rx="4.0" ry="4.8" fill="url(#pg)"/><text transform="translate(181.9 199.9) scale(0.85 1)" text-anchor="middle" font-family="Liberation Sans,Arial,sans-serif" font-weight="bold" font-size="5.6" fill="#fff">P</text>
<ellipse cx="561.1" cy="218.7" rx="4.0" ry="4.8" fill="url(#pg)"/><text transform="translate(561.2 220.6) scale(0.85 1)" text-anchor="middle" font-family="Liberation Sans,Arial,sans-serif" font-weight="bold" font-size="5.6" fill="#fff">P</text>
<line x1="4" x2="731.5" y1="525.3" y2="525.3" stroke="#858585" stroke-width="1"/>
<line x1="731.4" x2="731.4" y1="35" y2="525.8" stroke="#808080" stroke-width="0.9"/>
<g class="ax">
<line x1="731.5" x2="733.4" y1="51.3" y2="51.3" stroke="#858585" stroke-width="0.8"/><text transform="translate(734.8 53.6) scale(0.83 1)">0.8000</text>
<line x1="731.5" x2="733.4" y1="69.3" y2="69.3" stroke="#858585" stroke-width="0.8"/><text transform="translate(734.8 71.6) scale(0.83 1)">0.7900</text>
<line x1="731.5" x2="733.4" y1="87.3" y2="87.3" stroke="#858585" stroke-width="0.8"/><text transform="translate(734.8 89.6) scale(0.83 1)">0.7800</text>
<line x1="731.5" x2="733.4" y1="105.3" y2="105.3" stroke="#858585" stroke-width="0.8"/><text transform="translate(734.8 107.6) scale(0.83 1)">0.7700</text>
<line x1="731.5" x2="733.4" y1="123.3" y2="123.3" stroke="#858585" stroke-width="0.8"/><text transform="translate(734.8 125.6) scale(0.83 1)">0.7600</text>
<line x1="731.5" x2="733.4" y1="141.3" y2="141.3" stroke="#858585" stroke-width="0.8"/><text transform="translate(734.8 143.6) scale(0.83 1)">0.7500</text>
<line x1="731.5" x2="733.4" y1="159.3" y2="159.3" stroke="#858585" stroke-width="0.8"/><text transform="translate(734.8 161.6) scale(0.83 1)">0.7400</text>
<line x1="731.5" x2="733.4" y1="177.3" y2="177.3" stroke="#858585" stroke-width="0.8"/><text transform="translate(734.8 179.6) scale(0.83 1)">0.7300</text>
<line x1="731.5" x2="733.4" y1="195.3" y2="195.3" stroke="#858585" stroke-width="0.8"/><text transform="translate(734.8 197.6) scale(0.83 1)">0.7200</text>
<line x1="731.5" x2="733.4" y1="213.3" y2="213.3" stroke="#858585" stroke-width="0.8"/><text transform="translate(734.8 215.6) scale(0.83 1)">0.7100</text>
<line x1="731.5" x2="733.4" y1="231.3" y2="231.3" stroke="#858585" stroke-width="0.8"/><text transform="translate(734.8 233.6) scale(0.83 1)">0.7000</text>
<line x1="731.5" x2="733.4" y1="249.3" y2="249.3" stroke="#858585" stroke-width="0.8"/><text transform="translate(734.8 251.6) scale(0.83 1)">0.6900</text>
<line x1="731.5" x2="733.4" y1="267.3" y2="267.3" stroke="#858585" stroke-width="0.8"/><text transform="translate(734.8 269.6) scale(0.83 1)">0.6800</text>
<line x1="731.5" x2="733.4" y1="285.3" y2="285.3" stroke="#858585" stroke-width="0.8"/><text transform="translate(734.8 287.6) scale(0.83 1)">0.6700</text>
<line x1="731.5" x2="733.4" y1="303.3" y2="303.3" stroke="#858585" stroke-width="0.8"/><text transform="translate(734.8 305.6) scale(0.83 1)">0.6600</text>
<line x1="731.5" x2="733.4" y1="321.3" y2="321.3" stroke="#858585" stroke-width="0.8"/><text transform="translate(734.8 323.6) scale(0.83 1)">0.6500</text>
<line x1="731.5" x2="733.4" y1="339.3" y2="339.3" stroke="#858585" stroke-width="0.8"/><text transform="translate(734.8 341.6) scale(0.83 1)">0.6400</text>
<line x1="731.5" x2="733.4" y1="357.3" y2="357.3" stroke="#858585" stroke-width="0.8"/><text transform="translate(734.8 359.6) scale(0.83 1)">0.6300</text>
<line x1="731.5" x2="733.4" y1="375.3" y2="375.3" stroke="#858585" stroke-width="0.8"/><text transform="translate(734.8 377.6) scale(0.83 1)">0.6200</text>
<line x1="731.5" x2="733.4" y1="393.3" y2="393.3" stroke="#858585" stroke-width="0.8"/><text transform="translate(734.8 395.6) scale(0.83 1)">0.6100</text>
<line x1="731.5" x2="733.4" y1="411.3" y2="411.3" stroke="#858585" stroke-width="0.8"/><text transform="translate(734.8 413.6) scale(0.83 1)">0.6000</text>
<line x1="731.5" x2="733.4" y1="429.3" y2="429.3" stroke="#858585" stroke-width="0.8"/><text transform="translate(734.8 431.6) scale(0.83 1)">0.5900</text>
<line x1="731.5" x2="733.4" y1="447.3" y2="447.3" stroke="#858585" stroke-width="0.8"/><text transform="translate(734.8 449.6) scale(0.83 1)">0.5800</text>
<line x1="731.5" x2="733.4" y1="465.3" y2="465.3" stroke="#858585" stroke-width="0.8"/><text transform="translate(734.8 467.6) scale(0.83 1)">0.5700</text>
<line x1="731.5" x2="733.4" y1="483.3" y2="483.3" stroke="#858585" stroke-width="0.8"/><text transform="translate(734.8 485.6) scale(0.83 1)">0.5600</text>
<line x1="731.5" x2="733.4" y1="501.3" y2="501.3" stroke="#858585" stroke-width="0.8"/><text transform="translate(734.8 503.6) scale(0.83 1)">0.5500</text>
<line x1="731.5" x2="733.4" y1="519.3" y2="519.3" stroke="#858585" stroke-width="0.8"/><text transform="translate(734.8 521.6) scale(0.83 1)">0.5400</text>
<line x1="14.3" x2="14.3" y1="525.5" y2="527.6" stroke="#858585" stroke-width="0.8"/><text transform="translate(14.3 534.6) scale(0.8 1)" text-anchor="middle">May</text>
<line x1="58.3" x2="58.3" y1="525.5" y2="527.6" stroke="#858585" stroke-width="0.8"/><text transform="translate(58.3 534.6) scale(0.8 1)" text-anchor="middle">Jul</text>
<line x1="103" x2="103" y1="525.5" y2="527.6" stroke="#858585" stroke-width="0.8"/><text transform="translate(103 534.6) scale(0.8 1)" text-anchor="middle">Sep</text>
<line x1="146.3" x2="146.3" y1="525.5" y2="527.6" stroke="#858585" stroke-width="0.8"/><text transform="translate(146.3 534.6) scale(0.8 1)" text-anchor="middle">Nov</text>
<line x1="190" x2="190" y1="525.5" y2="527.6" stroke="#858585" stroke-width="0.8"/><text transform="translate(190 534.6) scale(0.8 1)" text-anchor="middle">2019</text>
<line x1="232" x2="232" y1="525.5" y2="527.6" stroke="#858585" stroke-width="0.8"/><text transform="translate(232 534.6) scale(0.8 1)" text-anchor="middle">Mar</text>
<line x1="275" x2="275" y1="525.5" y2="527.6" stroke="#858585" stroke-width="0.8"/><text transform="translate(275 534.6) scale(0.8 1)" text-anchor="middle">May</text>
<line x1="318" x2="318" y1="525.5" y2="527.6" stroke="#858585" stroke-width="0.8"/><text transform="translate(318 534.6) scale(0.8 1)" text-anchor="middle">Jul</text>
<line x1="362" x2="362" y1="525.5" y2="527.6" stroke="#858585" stroke-width="0.8"/><text transform="translate(362 534.6) scale(0.8 1)" text-anchor="middle">Sep</text>
<line x1="406" x2="406" y1="525.5" y2="527.6" stroke="#858585" stroke-width="0.8"/><text transform="translate(406 534.6) scale(0.8 1)" text-anchor="middle">Nov</text>
<line x1="450.2" x2="450.2" y1="525.5" y2="527.6" stroke="#858585" stroke-width="0.8"/><text transform="translate(450.2 534.6) scale(0.8 1)" text-anchor="middle">2020</text>
<line x1="492.4" x2="492.4" y1="525.5" y2="527.6" stroke="#858585" stroke-width="0.8"/><text transform="translate(492.4 534.6) scale(0.8 1)" text-anchor="middle">Mar</text>
<line x1="537" x2="537" y1="525.5" y2="527.6" stroke="#858585" stroke-width="0.8"/><text transform="translate(537 534.6) scale(0.8 1)" text-anchor="middle">May</text>
<line x1="579" x2="579" y1="525.5" y2="527.6" stroke="#858585" stroke-width="0.8"/><text transform="translate(579 534.6) scale(0.8 1)" text-anchor="middle">Jul</text>
<line x1="623.3" x2="623.3" y1="525.5" y2="527.6" stroke="#858585" stroke-width="0.8"/><text transform="translate(623.3 534.6) scale(0.8 1)" text-anchor="middle">Sep</text>
<line x1="667" x2="667" y1="525.5" y2="527.6" stroke="#858585" stroke-width="0.8"/><text transform="translate(667 534.6) scale(0.8 1)" text-anchor="middle">Nov</text>
<line x1="711.5" x2="711.5" y1="525.5" y2="527.6" stroke="#858585" stroke-width="0.8"/><text transform="translate(711.5 534.6) scale(0.8 1)" text-anchor="middle">2021</text>
</g>
<rect x="731.3" y="128.0" width="21.5" height="9.8" fill="#9c1a1a"/><text transform="translate(734.5 135.2) scale(0.81 1)" font-family="Liberation Sans,Arial,sans-serif" font-weight="bold" font-size="6.4" fill="#fff">0.7545</text>
<rect x="731.3" y="192.9" width="21.5" height="9.8" fill="#9c1a1a"/><text transform="translate(734.5 200.1) scale(0.81 1)" font-family="Liberation Sans,Arial,sans-serif" font-weight="bold" font-size="6.4" fill="#fff">0.7188</text>
<rect x="731.3" y="232.0" width="21.5" height="9.8" fill="#4a7bd8"/><text transform="translate(734.5 239.2) scale(0.81 1)" font-family="Liberation Sans,Arial,sans-serif" font-weight="bold" font-size="6.4" fill="#fff">0.6969</text>
<text class="fib" x="727.6" y="96.0" text-anchor="end" fill="#4a50b8">1.618(0.7765)</text>
<text class="fib" x="727.6" y="135.6" text-anchor="end" fill="#5a5a5a">1.382(0.7545)</text>
<text class="fib" x="727.6" y="199.9" text-anchor="end" fill="#a04850">1(0.7188)</text>
<text class="fib" x="727.6" y="368.0" text-anchor="end" fill="#747474">0(0.6252)</text>
<text x="7.3" y="12.8" font-family="Liberation Sans,Arial,sans-serif" font-size="7.1" fill="#151515" textLength="243" lengthAdjust="spacingAndGlyphs">Published on Investing.com, 5/Jun/2020 - 22:31:25 GMT, Powered by TradingView.</text>
<text x="7" y="26.8" font-family="Liberation Sans,Arial,sans-serif" font-weight="bold" font-size="7.6" fill="#111" textLength="38.6" lengthAdjust="spacingAndGlyphs">AUD/USD, D</text>
<text x="9.9" y="516.0" font-family="Liberation Sans,Arial,sans-serif" font-weight="bold" font-size="12.4" fill="#0c0c0c" stroke="#0c0c0c" stroke-width="0.3" textLength="43.4" lengthAdjust="spacingAndGlyphs">Investing</text><text x="53.7" y="516.2" font-family="Liberation Sans,Arial,sans-serif" font-size="8.8" fill="#5a5a5a" textLength="13.6" lengthAdjust="spacingAndGlyphs">.com</text><rect x="39.1" y="506" width="1.2" height="1.4" fill="#f3b040"/>
</svg>
</body></html>
